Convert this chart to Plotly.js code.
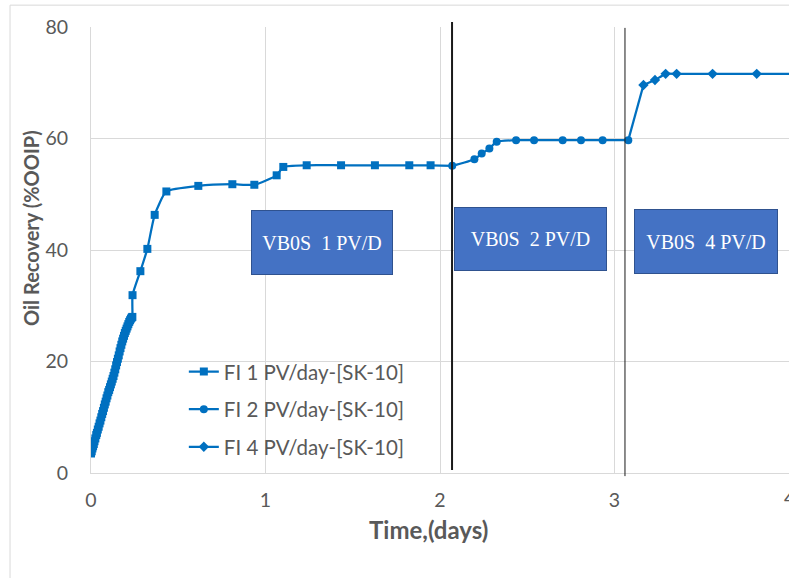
<!DOCTYPE html>
<html><head><meta charset="utf-8">
<script src="https://cdn.plot.ly/plotly-3.0.1.min.js"></script>
<style>html,body{margin:0;padding:0;background:#fff}#chart{width:789px;height:578px}</style>
</head><body><div id="chart"></div>
<script>
// Series 1: FI 1 PV/day
const t1 = [0.000,0.004,0.008,0.012,0.016,0.020,0.025,0.030,0.034,0.039,0.044,0.049,0.054,0.059,0.064,0.069,0.074,0.079,0.084,0.089,0.094,0.099,0.104,0.109,0.114,0.119,0.124,0.129,0.134,0.139,0.144,0.149,0.154,0.159,0.164,0.169,0.174,0.179,0.184,0.189,0.194,0.199,0.204,0.209,0.214,0.219,0.224,0.229,0.234,0.237,
  0.238,0.283,0.323,0.365,0.432,0.615,0.81,0.936,1.064,1.102,1.236,1.433,1.627,1.824,1.946];
const r1 = [3.5,3.9,4.4,4.8,5.2,5.7,6.2,6.8,7.2,7.8,8.3,8.9,9.4,10.0,10.6,11.1,11.7,12.3,12.8,13.4,13.9,14.5,14.9,15.4,15.9,16.4,16.9,17.4,18.0,18.6,19.3,19.9,20.5,21.1,21.8,22.4,23.0,23.6,24.1,24.6,25.1,25.5,25.9,26.3,26.7,27.1,27.4,27.7,27.9,28.0,
  31.9,36.2,40.2,46.3,50.5,51.5,51.8,51.7,53.4,54.9,55.2,55.2,55.2,55.2,55.2];
// Series 2: FI 2 PV/day
const t2 = [2.07,2.197,2.239,2.283,2.325,2.436,2.539,2.703,2.808,2.932,3.079];
const r2 = [55.1,56.3,57.3,58.2,59.4,59.7,59.7,59.7,59.7,59.7,59.7];
// Series 3: FI 4 PV/day
const t3 = [3.166,3.232,3.293,3.356,3.562,3.815,4.08];
const r3 = [69.6,70.5,71.6,71.6,71.6,71.6,71.6];
const seriesNames = ['FI 1 PV/day-[SK-10]','FI 2 PV/day-[SK-10]','FI 4 PV/day-[SK-10]'];
const stageLabels = ['VB0S&nbsp;&nbsp;1 PV/D','VB0S&nbsp;&nbsp;2 PV/D','VB0S&nbsp;&nbsp;4 PV/D'];
const stageLabelX = [1.324,2.519,3.524];
const stageLabelY = [41.3,42.0,41.5];
const switchTimes = [2.069,3.06];
const xTicks = [0,1,2,3,4];
const yTicks = [0,20,40,60,80];

const blue = '#0070C0';
const gray = '#595959';
const font = 'Lato, sans-serif';
const lineStyle = {color:blue,width:2.25,shape:'spline',smoothing:0.5};

const traces = [
  {x:[t1[t1.length-1],t2[0]],y:[r1[r1.length-1],r2[0]],type:'scatter',mode:'lines',showlegend:false,hoverinfo:'skip',line:{color:blue,width:2.25}},
  {x:[t2[t2.length-1],t3[0]],y:[r2[r2.length-1],r3[0]],type:'scatter',mode:'lines',showlegend:false,hoverinfo:'skip',line:{color:blue,width:2.25}},
  {x:t1,y:r1,name:seriesNames[0],type:'scatter',mode:'lines+markers',legendgroup:'a',
   line:lineStyle,marker:{symbol:'square',size:8,color:blue}},
  {x:t2,y:r2,name:seriesNames[1],type:'scatter',mode:'lines+markers',legendgroup:'b',
   line:lineStyle,marker:{symbol:'circle',size:8,color:blue}},
  {x:t3,y:r3,name:seriesNames[2],type:'scatter',mode:'lines+markers',legendgroup:'c',
   line:{color:blue,width:2.25,shape:'spline',smoothing:0.3},marker:{symbol:'diamond',size:8,color:blue}}
];

const annotations = stageLabels.map((s,i)=>({
  x:stageLabelX[i], y:stageLabelY[i], xref:'x', yref:'y', text:s, showarrow:false,
  font:{family:'Liberation Serif, Times New Roman, serif', size:20, color:'#ffffff'},
  bgcolor:'#4472C4', bordercolor:'#2F528F', borderwidth:1, borderpad:0,
  width:[140,151,142][i], height:[63,62,63][i]
}));
annotations.push({x:0.484,y:-0.127,xref:'paper',yref:'paper',text:'<b>Time,(days)</b>',showarrow:false,
  font:{family:font,size:24,color:gray},xanchor:'center',yanchor:'middle'});
annotations.push({x:-0.087,y:0.55,xref:'paper',yref:'paper',text:'<b>Oil Recovery (%OOIP)</b>',showarrow:false,textangle:-90,
  font:{family:font,size:20,color:gray},xanchor:'center',yanchor:'middle'});
annotations.push({x:4,y:-0.054,xref:'x',yref:'paper',text:String(xTicks[4]),showarrow:false,
  font:{family:font,size:19.5,color:gray},xanchor:'center',yanchor:'middle'});

const shapes = [
  {type:'line',xref:'x',yref:'paper',x0:switchTimes[0],x1:switchTimes[0],y0:0.007,y1:1.011,line:{color:'#1a1a1a',width:2}},
  {type:'line',xref:'x',yref:'paper',x0:switchTimes[1],x1:switchTimes[1],y0:-0.007,y1:0.998,line:{color:'#1a1a1a',width:1}},
  {type:'rect',xref:'paper',yref:'paper',x0:-0.116,x1:1.2,y0:-0.4,y1:1.049,line:{color:'#D9D9D9',width:1}}
];

const layout = {
  width:789,height:578,
  margin:{l:91,r:0,t:27,b:105},
  paper_bgcolor:'#ffffff',plot_bgcolor:'#ffffff',
  font:{family:font,color:gray},
  showlegend:true,
  legend:{x:0.133,y:0.272,xanchor:'left',yanchor:'top',font:{size:20.5,color:gray},bgcolor:'rgba(0,0,0,0)',
    traceorder:'grouped',tracegroupgap:8,itemwidth:30},
  xaxis:{range:[0,4],tickvals:xTicks.slice(0,4),ticktext:xTicks.slice(0,4).map(String),showgrid:true,gridcolor:'#D9D9D9',gridwidth:1,
    showline:true,linecolor:'#D9D9D9',linewidth:1,zeroline:false,ticks:'',tickfont:{size:19.5,color:gray},ticklabelstandoff:10},
  yaxis:{range:[0,80],tickvals:yTicks,ticktext:yTicks.map(String),showgrid:true,gridcolor:'#D9D9D9',gridwidth:1,
    showline:true,linecolor:'#D9D9D9',linewidth:1,zeroline:false,ticks:'',tickfont:{size:19.5,color:gray},ticklabelstandoff:18},
  annotations:annotations,
  shapes:shapes
};
Plotly.newPlot('chart',traces,layout,{displayModeBar:false,staticPlot:true});
</script></body></html>
